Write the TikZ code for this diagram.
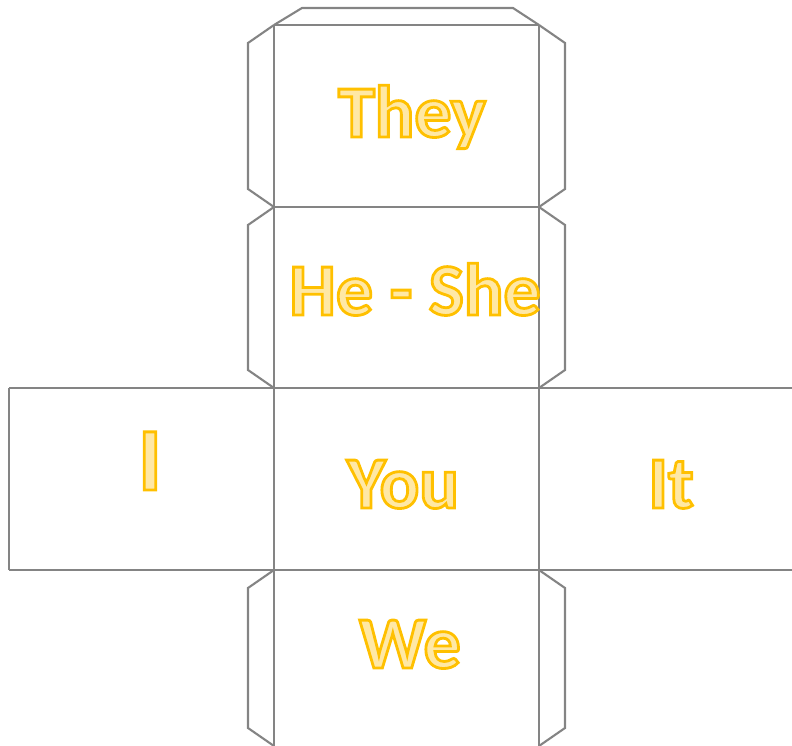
\documentclass[tikz,border=0pt]{standalone}
\usepackage{fontspec}
\setmainfont{Carlito}
\usepackage{xcolor}
\usetikzlibrary{positioning}
\definecolor{netline}{RGB}{132,132,132}
\definecolor{wordfill}{RGB}{255,232,165}
% outlined yellow lettering (fill + stroke text mode)
\newcommand{\outlineword}[1]{\special{pdf:literal direct 1 0.753 0 RG 1.6 w 2 Tr}#1\special{pdf:literal direct 0 Tr}}

\begin{document}
\begin{tikzpicture}[x=0.02cm,y=-0.02cm,
    netedge/.style={draw=netline,line width=1.2pt,line join=miter},
    word/.style={anchor=base,inner sep=0pt,text=wordfill,
      font=\bfseries\fontsize{42}{42}\selectfont}]
  \useasboundingbox (0,0) rectangle (792,746);

  % faces of the net
  \draw[netedge] (274,25) -- (539,25);
  \draw[netedge] (274,207) -- (539,207);
  \draw[netedge] (9,388) -- (792,388);
  \draw[netedge] (9,570) -- (792,570);
  \draw[netedge] (274,25) -- (274,746);
  \draw[netedge] (539,25) -- (539,746);
  \draw[netedge] (9,388) -- (9,570);

  % glue tabs
  \draw[netedge] (274,25) -- (302,8) -- (513,8) -- (539,25);
  \foreach \a/\b in {25/207,207/388,570/746}{
    \draw[netedge] (274,\a) -- (248,\a+18) -- (248,\b-18) -- (274,\b);
    \draw[netedge] (539,\a) -- (565,\a+18) -- (565,\b-18) -- (539,\b);
  }

  % words
  \node[word] (they) at (412,137) {\outlineword{They}};
  \node[word] (heshe) at (415,315) {\outlineword{He - She}};
  \node[word] (you) at (403,508) {\outlineword{You}};
  \node[word,font=\bfseries\fontsize{51}{51}\selectfont] (i) at (150,490) {\outlineword{I}};
  \node[word] (it) at (671,508) {\outlineword{It}};
  \node[word] (we) at (410,668) {\outlineword{We}};
\end{tikzpicture}
\end{document}
